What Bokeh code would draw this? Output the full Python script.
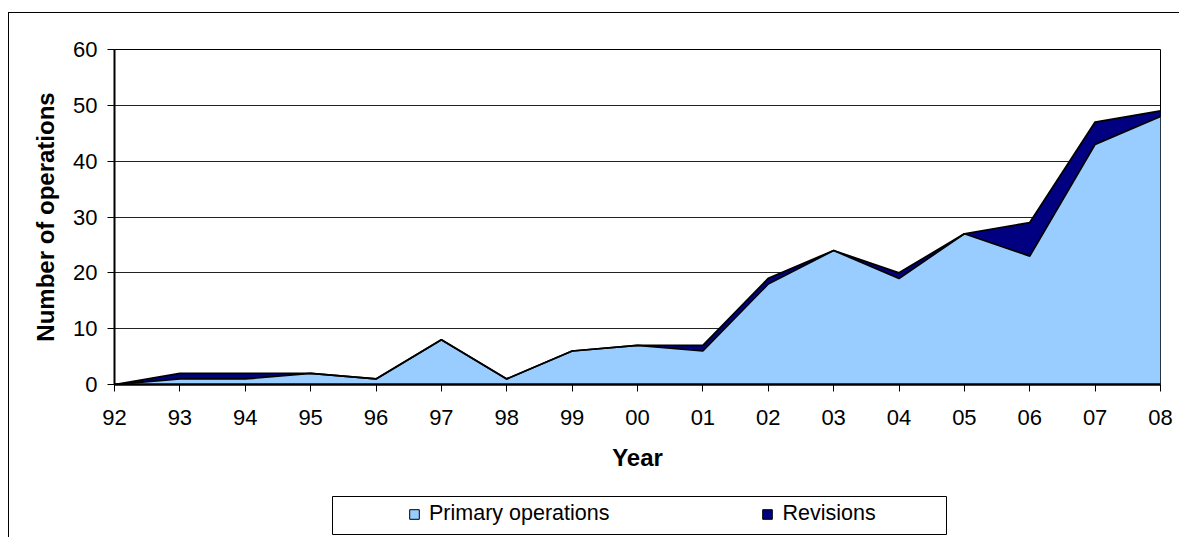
from bokeh.plotting import figure
from bokeh.models import Range1d, FixedTicker, Legend, LegendItem
from bokeh.layouts import column
from bokeh.embed import file_html
from bokeh.resources import INLINE

# ---- data ----
years = [1992, 1993, 1994, 1995, 1996, 1997, 1998, 1999, 2000,
         2001, 2002, 2003, 2004, 2005, 2006, 2007, 2008]
year_labels = ["92", "93", "94", "95", "96", "97", "98", "99", "00",
               "01", "02", "03", "04", "05", "06", "07", "08"]
primary = [0, 1, 1, 2, 1, 8, 1, 6, 7, 6, 18, 24, 19, 27, 23, 43, 48]
revisions = [0, 1, 1, 0, 0, 0, 0, 0, 0, 1, 1, 0, 1, 0, 6, 4, 1]
y_ticks = [0, 10, 20, 30, 40, 50, 60]
series_names = ["Primary operations", "Revisions"]
total = [a + b for a, b in zip(primary, revisions)]

FONT = "Liberation Sans"
C_PRIMARY = "#99CCFF"
C_REV = "#000080"
NAN = float("nan")

p = figure(width=1170, height=482,
           x_range=Range1d(years[0], years[-1]), y_range=Range1d(0, 60),
           output_backend="svg", toolbar_location=None,
           min_border_left=105, min_border_right=19,
           min_border_top=36, min_border_bottom=111)
p.background_fill_color = "white"
p.border_fill_color = "white"
p.outline_line_color = "black"
p.outline_line_width = 1

p.varea(x=years, y1=0, y2=primary, fill_color=C_PRIMARY)
p.varea(x=years, y1=primary, y2=total, fill_color=C_REV)
p.line(years, total, line_color="black", line_width=1.75)
p.line(years, primary, line_color="black", line_width=1.75)

p.xgrid.visible = False
p.ygrid.ticker = FixedTicker(ticks=y_ticks)
p.ygrid.grid_line_color = "#222222"
p.ygrid.grid_line_width = 1

p.xaxis.ticker = FixedTicker(ticks=years)
p.xaxis.major_label_overrides = {y: l for y, l in zip(years, year_labels)}
p.yaxis.ticker = FixedTicker(ticks=y_ticks)

for ax in (p.xaxis[0], p.yaxis[0]):
    ax.major_tick_in = 0
    ax.major_tick_out = 7
    ax.minor_tick_in = 0
    ax.minor_tick_out = 0
    ax.major_tick_line_color = "black"
    ax.axis_line_color = "black"
    ax.major_label_text_font = FONT
    ax.major_label_text_font_size = "22px"
    ax.major_label_text_color = "black"
    ax.axis_label_text_font = FONT
    ax.axis_label_text_font_size = "24px"
    ax.axis_label_text_font_style = "bold"
    ax.axis_label_text_color = "black"

p.xaxis.axis_line_width = 2.5
p.yaxis.axis_line_width = 2
p.xaxis.axis_label = "Year"
p.yaxis.axis_label = "Number of operations"
p.xaxis.major_label_standoff = 18
p.yaxis.major_label_standoff = 10
p.xaxis.axis_label_standoff = 16
p.yaxis.axis_label_standoff = 11

# ---- legend box (its frame is the legend border) ----
lf = figure(width=738, height=40, x_range=Range1d(0, 1), y_range=Range1d(0, 1),
            x_axis_type=None, y_axis_type=None,
            output_backend="svg", toolbar_location=None,
            min_border=1, margin=(0, 0, 2, 218))
lf.grid.visible = False
lf.outline_line_color = "black"
lf.outline_line_width = 1
sw1 = lf.quad(left=[NAN], right=[NAN], top=[NAN], bottom=[NAN],
              fill_color=C_PRIMARY, line_color="black", line_width=1)
sw2 = lf.quad(left=[NAN], right=[NAN], top=[NAN], bottom=[NAN],
              fill_color=C_REV, line_color="black", line_width=1)
legend = Legend(items=[LegendItem(label=series_names[0], renderers=[sw1]),
                       LegendItem(label=series_names[1], renderers=[sw2])],
                orientation="horizontal", location=(76, 8),
                glyph_width=12, glyph_height=12, label_standoff=9, spacing=152,
                label_height=24,
                padding=0, margin=0, border_line_color=None,
                background_fill_alpha=0,
                label_text_font=FONT, label_text_font_size="21.5px",
                label_text_color="black")
lf.add_layout(legend, "center")

layout = column(p, lf, spacing=0,
                styles={"border-top": "1px solid black",
                        "border-left": "1px solid black",
                        "margin-top": "12px",
                        "margin-left": "8px"})

open("out.html", "w").write(file_html(layout, INLINE))
